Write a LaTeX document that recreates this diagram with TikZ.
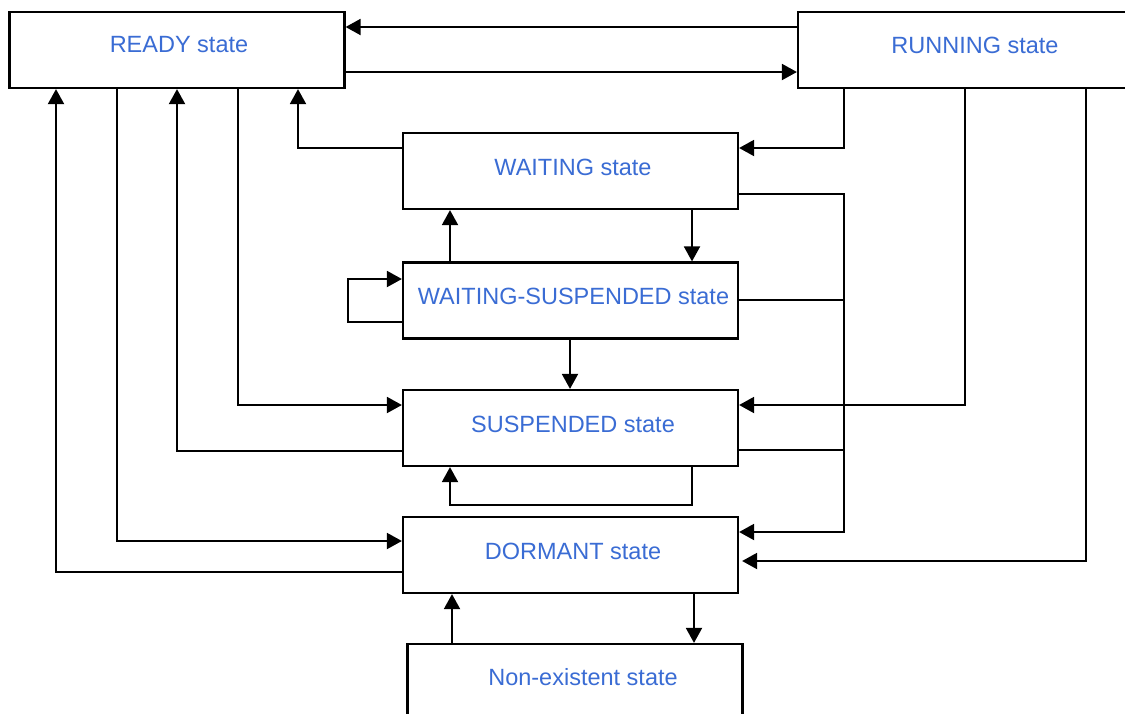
\documentclass[tikz,border=0pt]{standalone}
\usepackage{fontspec}
\setmainfont{Liberation Sans}
\usetikzlibrary{arrows.meta}
\definecolor{statetext}{RGB}{58,108,212}
\tikzset{
  statebox/.style={draw=black, line width=2.2pt, rectangle, inner sep=0pt,
                   minimum width=335pt, minimum height=76pt},
  statelabel/.style={text=statetext, font=\fontsize{23.5}{27}\selectfont, inner sep=0pt},
  arr/.style={line width=1.9pt, -{Triangle[length=15pt,width=16pt]}},
  wire/.style={line width=1.9pt},
}
\begin{document}
\begin{tikzpicture}[x=1pt,y=-1pt]
\clip (0,0) rectangle (1125,713);
\fill[white] (0,0) rectangle (1125,713);

% state boxes
\node[statebox] (ready)     at (177,50)    {};
\node[statebox, minimum width=354pt] (running) at (975,50) {};
\node[statebox] (waiting)   at (570.5,171) {};
\node[statebox] (ws)        at (570.5,300.5) {};
\node[statebox] (suspended) at (570.5,428) {};
\node[statebox] (dormant)   at (570.5,555) {};
\node[statebox] (nonex)     at (575,682)   {};

% state names
\node[statelabel] (ready-t)     at (179,45)  {READY state};
\node[statelabel] (running-t)   at (975,45)  {RUNNING state};
\node[statelabel] (waiting-t)   at (573,167) {WAITING state};
\node[statelabel] (ws-t)        at (573.5,296) {WAITING-SUSPENDED state};
\node[statelabel] (suspended-t) at (573,424) {SUSPENDED state};
\node[statelabel] (dormant-t)   at (573,551) {DORMANT state};
\node[statelabel] (nonex-t)     at (583,677) {Non-existent state};

% READY <-> RUNNING
\draw[arr] (running.west |- 0,27) -- (ready.east |- 0,27);
\draw[arr] (ready.east |- 0,72) -- (running.west |- 0,72);

% from RUNNING
\draw[arr] (running.south -| 844,0) |- (waiting.east |- 0,148);
\draw[arr] (running.south -| 965,0) |- (suspended.east |- 0,405);
\draw[arr, shorten >=3pt] (running.south -| 1086,0) |- (dormant.east |- 0,561);

% WAITING -> READY
\draw[arr] (waiting.west |- 0,148) -| (ready.south -| 298,0);

% right-hand bus into DORMANT
\draw[arr] (waiting.east |- 0,194) -- (844,194) |- (dormant.east |- 0,532);
\draw[wire] (ws.east |- 0,300) -- (844,300);
\draw[wire] (suspended.east |- 0,450) -- (844,450);

% WAITING <-> WAITING-SUSPENDED
\draw[arr] (waiting.south -| 692,0) -- (ws.north -| 692,0);
\draw[arr] (ws.north -| 450,0) -- (waiting.south -| 450,0);

% WAITING-SUSPENDED self loop
\draw[arr] (ws.west |- 0,322) -- (348,322) |- (ws.west |- 0,279);

% WAITING-SUSPENDED -> SUSPENDED
\draw[arr] (ws.south -| 570,0) -- (suspended.north -| 570,0);

% READY <-> SUSPENDED
\draw[arr] (ready.south -| 238,0) |- (suspended.west |- 0,405);
\draw[arr] (suspended.west |- 0,451) -| (ready.south -| 177,0);

% SUSPENDED self loop
\draw[arr] (suspended.south -| 692,0) -- (692,505) -| (suspended.south -| 450,0);

% READY <-> DORMANT
\draw[arr] (ready.south -| 117,0) |- (dormant.west |- 0,541);
\draw[arr] (dormant.west |- 0,572) -| (ready.south -| 56,0);

% DORMANT <-> Non-existent
\draw[arr] (dormant.south -| 694,0) -- (nonex.north -| 694,0);
\draw[arr] (nonex.north -| 452,0) -- (dormant.south -| 452,0);
\end{tikzpicture}
\end{document}
